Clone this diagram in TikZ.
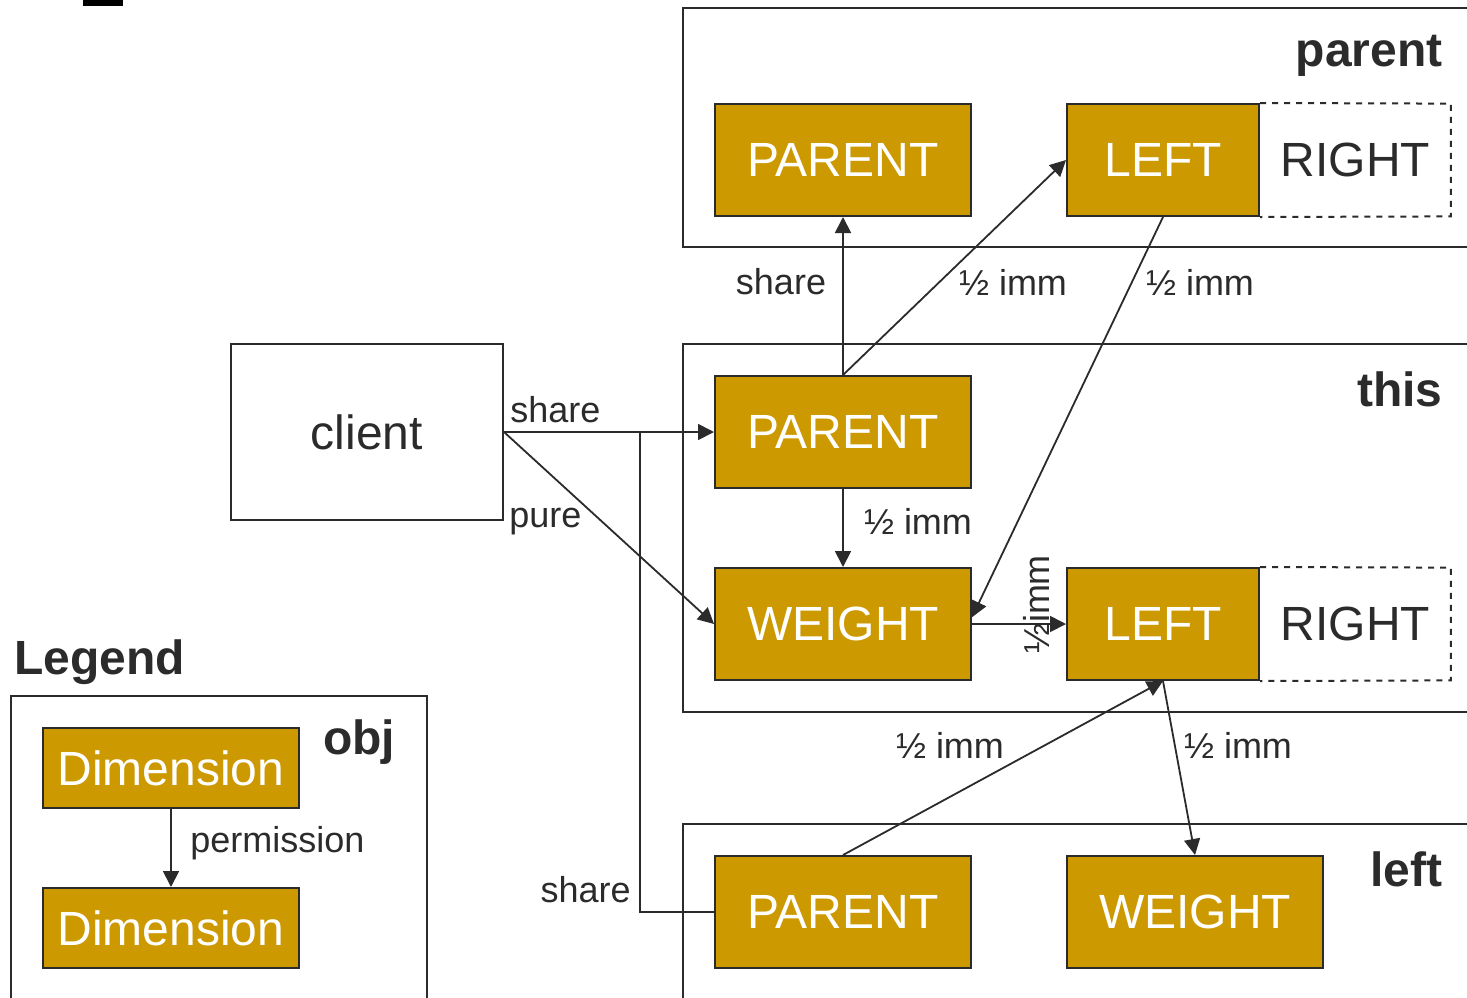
\documentclass[tikz,border=0pt]{standalone}
\usepackage{fontspec}
\setmainfont{Liberation Sans}
\usepackage{xcolor}
\usepackage{tikz}
\usetikzlibrary{shapes,arrows.meta,positioning}

\definecolor{gold}{HTML}{CC9900}
\definecolor{ink}{HTML}{2B2B2B}

\tikzset{
  dimbox/.style={draw=ink, fill=gold, line width=1pt, inner sep=0pt,
    minimum width=128pt, minimum height=56pt, text=white,
    font=\fontsize{24}{28}\selectfont},
  halfbox/.style={dimbox, minimum width=96pt},
  openbox/.style={inner sep=0pt, minimum width=95pt, minimum height=56pt,
    text=ink, font=\fontsize{24}{28}\selectfont},
  frame/.style={draw=ink, line width=1pt},
  title/.style={text=ink, font=\fontsize{24}{28}\selectfont\bfseries, inner sep=0pt},
  lbl/.style={text=ink, font=\fontsize{18}{21}\selectfont, inner sep=0pt},
  link/.style={draw=ink, line width=0.9pt, -{Triangle[length=8pt,width=8pt]}},
}

\begin{document}
\begin{tikzpicture}[x=0.5pt,y=-0.5pt]
\clip (0,0) rectangle (1467,997);
\fill[white] (0,0) rectangle (1467,997);
\fill[black] (83,0) rectangle (123,6);

% object frames
\draw[frame] (683,8) rectangle (1500,247);
\draw[frame] (683,344) rectangle (1500,712);
\draw[frame] (683,824) rectangle (1500,1020);
\draw[frame] (11,696) rectangle (427,1020);

\node[title, anchor=east] at (1443,56) {parent};
\node[title, anchor=east] at (1443,389) {this};
\node[title, anchor=east] at (1443,869) {left};
\node[title, anchor=west] at (14,662) {Legend};
\node[title] at (359,742) {obj};

% client
\node[draw=ink, line width=1pt, minimum width=136pt, minimum height=88pt,
  text=ink, font=\fontsize{24}{28}\selectfont] (client) at (367,432) {client};

% parent
\node[dimbox] (pParent) at (843,160) {PARENT};
\node[halfbox] (pLeft) at (1163,160) {LEFT};
\node[openbox, right=0pt of pLeft] (pRight) {RIGHT};
\draw[ink, line width=1pt, dashed] (pLeft.north east) -- (pRight.north east)
  -- (pRight.south east) -- (pLeft.south east);

% this
\node[dimbox] (tParent) at (843,432) {PARENT};
\node[dimbox] (tWeight) at (843,624) {WEIGHT};
\node[halfbox] (tLeft) at (1163,624) {LEFT};
\node[openbox, right=0pt of tLeft] (tRight) {RIGHT};
\draw[ink, line width=1pt, dashed] (tLeft.north east) -- (tRight.north east)
  -- (tRight.south east) -- (tLeft.south east);

% left
\node[dimbox] (lParent) at (843,912) {PARENT};
\node[dimbox] (lWeight) at (1195,912) {WEIGHT};

% legend
\node[dimbox, minimum height=40pt] (dimA) at (171,768) {Dimension};
\node[dimbox, minimum height=40pt] (dimB) at (171,928) {Dimension};
\draw[link] (dimA) -- (dimB);
\node[lbl, anchor=west] at (190,843) {permission};

% links
\coordinate (fork) at (640,432);
\draw[link] (client.east) -- (tParent.west);
\node[lbl, anchor=west] at (510,410) {share};
\draw[link] (client.east) -- (tWeight.west);
\node[lbl, anchor=west] at (509,522) {pure};
\draw[draw=ink, line width=0.9pt] (fork) |- (lParent.west);
\node[lbl, anchor=east] at (631,890) {share};

\draw[link] (tParent.north) -- (pParent.south);
\node[lbl] at (781,282) {share};
\draw[link] (tParent.north) -- (pLeft.west);
\node[lbl] at (1013,282) {½ imm};
\draw[link] (pLeft.south) -- (tWeight.3);
\node[lbl] at (1200,282) {½ imm};
\draw[link] (tParent.south) -- (tWeight.north);
\node[lbl] at (918,521) {½ imm};
\draw[link] (tWeight.east) -- (tLeft.west);
\node[lbl, rotate=90] at (1036,604) {½imm};
\draw[link] (lParent.north) -- (tLeft.south);
\node[lbl] at (950,745) {½ imm};
\draw[link] (tLeft.south) -- (lWeight.north);
\node[lbl] at (1238,745) {½ imm};
\end{tikzpicture}
\end{document}
